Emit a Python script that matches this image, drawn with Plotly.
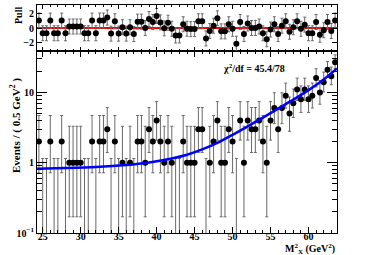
import plotly.graph_objects as go

# ---------------- data ----------------
bin_lo = 24.25
bin_w = 0.5
counts = [2, 0, 0, 2, 0, 0, 2, 0, 1, 1, 1, 1, 0, 0, 2, 0, 2, 2, 3, 0,
          2, 0, 1, 0, 1, 0, 2, 2, 1, 3, 2, 4, 2, 1, 2, 1, 0, 0, 2, 1,
          1, 1, 3, 3, 0, 1, 2, 4, 1, 1, 3, 2, 0, 4, 1, 4, 3, 3, 4, 2,
          1, 4, 6, 3, 6, 9, 5, 7, 11, 8, 11, 8, 9, 16, 10, 14, 21, 17, 27]
pulls = [1.0, -0.7, -0.7, 1.0, -0.7, -0.7, 1.0, -0.7, 0.2, 0.2, 0.2, 0.2, -0.7, -0.7, 1.0, -0.7,
         1.0, 1.0, 1.4, -0.75, 0.9, -0.75, 0.1, -0.75, 0.1, -0.8, 0.85, 0.85, 0.0, 1.2, 0.8, 1.6,
         0.75, -0.05, 0.7, -0.1, -1.0, -1.0, 0.5, -0.1, -0.15, -0.15, 0.9, 0.9, -1.4, -0.4, 0.3, 1.3,
         -0.45, -0.45, 0.5, -0.1, -2.1, 0.8, -0.8, 0.6, 0.0, 0.0, 0.2, -0.7, -1.5, -0.2, 0.5, -0.8,
         0.3, 0.9, -0.5, 0.1, 0.9, -0.1, 0.45, -0.7, -0.7, 0.8, -0.9, -0.3, 0.8, -0.4, 1.0]
# asymmetric error bar (down, up) per bin content
err_down = {1: 0.83, 2: 1.28, 3: 1.6, 4: 1.9, 5: 2.2, 6: 2.4, 7: 2.6, 8: 2.8, 9: 3.0,
            10: 3.2, 11: 3.3, 14: 3.8, 16: 4.0, 17: 4.1, 21: 4.6, 27: 5.2}
err_up = {1: 2.3, 2: 2.7, 3: 3.1, 4: 3.4, 5: 3.6, 6: 3.9, 7: 4.2, 8: 4.4, 9: 4.6,
          10: 4.8, 11: 5.0, 14: 5.5, 16: 5.8, 17: 6.0, 21: 6.5, 27: 7.3}
zero_up = 1.15
fit_x = [24.25, 28.0, 32.0, 36.0, 39.0, 42.0, 44.0, 46.0, 48.0, 50.0, 52.0, 54.0, 56.0, 58.0, 60.0, 62.0, 63.75]
fit_y = [0.82, 0.84, 0.87, 0.93, 1.01, 1.15, 1.30, 1.55, 1.92, 2.5, 3.3, 4.4, 5.9, 7.9, 10.8, 15.3, 22.0]
x_ticks = [25, 30, 35, 40, 45, 50, 55, 60]
y_ticks = [0.1, 1, 10]
y_ticktext = ["10<sup>−1</sup>", "1", "10"]
pull_ticks = [-2, 0, 2]
pull_ticktext = ["−2", "0", "2"]
chi2_label = "χ<sup>2</sup>/df = 45.4/78"

# ---------------- build ----------------
nb = len(counts)
centers = [bin_lo + bin_w * (i + 0.5) for i in range(nb)]
x_hi = bin_lo + bin_w * nb

nz_x = [c for c, n in zip(centers, counts) if n > 0]
nz_y = [n for n in counts if n > 0]
nz_up = [err_up[n] for n in nz_y]
nz_dn = [err_down[n] for n in nz_y]
z_x = [c for c, n in zip(centers, counts) if n == 0]
z_top = [zero_up for _ in z_x]
z_dn = [zero_up - 0.001 for _ in z_x]

FONT = "Liberation Serif"
BAR = "#6a6a6a"

fig = go.Figure()
# zero-content bins: error bar only
fig.add_trace(go.Scatter(x=z_x, y=z_top, mode="markers", marker=dict(size=0.1, color="rgba(0,0,0,0)"),
                         error_y=dict(type="data", symmetric=False, array=[0] * len(z_x), arrayminus=z_dn,
                                      color=BAR, thickness=1, width=1.5),
                         xaxis="x", yaxis="y", hoverinfo="skip"))
fig.add_trace(go.Scatter(x=nz_x, y=nz_y, mode="markers", marker=dict(size=6, color="black"),
                         error_y=dict(type="data", symmetric=False, array=nz_up, arrayminus=nz_dn,
                                      color=BAR, thickness=1, width=1.5),
                         xaxis="x", yaxis="y"))
fig.add_trace(go.Scatter(x=fit_x, y=fit_y, mode="lines",
                         line=dict(color="#0000ff", width=2.6, shape="spline", smoothing=0.8),
                         xaxis="x", yaxis="y"))
# pull panel
fig.add_trace(go.Scatter(x=[bin_lo, x_hi], y=[0, 0], mode="lines", line=dict(color="#ff0000", width=2),
                         xaxis="x2", yaxis="y2"))
fig.add_trace(go.Scatter(x=centers, y=pulls, mode="markers", marker=dict(size=6, color="black"),
                         error_y=dict(type="constant", value=1, color=BAR, thickness=1, width=1.5),
                         xaxis="x2", yaxis="y2"))

tickfont = dict(family=FONT, size=10, color="black", weight="bold")
axis_common = dict(showline=True, linecolor="black", linewidth=1, mirror="ticks", ticks="inside",
                   showgrid=False, zeroline=False, tickcolor="black", tickfont=tickfont)

split = 182 / 228
fig.update_layout(
    width=374, height=255,
    margin=dict(l=37, r=37, t=5, b=22),
    paper_bgcolor="white", plot_bgcolor="white",
    showlegend=False,
    xaxis=dict(domain=[0, 1], anchor="y", range=[bin_lo, x_hi], tickvals=x_ticks, ticklen=6,
               ticklabelstandoff=-6,
               minor=dict(dtick=1, tick0=25, ticklen=3, ticks="inside", tickcolor="black"), **axis_common),
    xaxis2=dict(domain=[0, 1], anchor="y2", matches="x", range=[bin_lo, x_hi], tickvals=x_ticks, ticklen=4,
                showticklabels=False,
                minor=dict(dtick=1, tick0=25, ticklen=2, ticks="inside", tickcolor="black"), **axis_common),
    yaxis=dict(domain=[0, split], anchor="x", type="log", range=[-1, 1.59], tickvals=y_ticks,
               ticktext=y_ticktext, ticklen=10,
               minor=dict(tickvals=[0.2, 0.3, 0.4, 0.5, 0.6, 0.7, 0.8, 0.9, 2, 3, 4, 5, 6, 7, 8, 9, 20, 30],
                          ticklen=5, ticks="inside", tickcolor="black"), **axis_common),
    yaxis2=dict(domain=[split, 1], anchor="x2", range=[-3.07, 3.07], tickvals=pull_ticks,
                ticktext=pull_ticktext, ticklen=5, **axis_common),
)

def px_x(p):
    return (p - 37) / 300.0

def px_y(p):
    return (233 - p) / 228.0

ann_font = dict(family=FONT, size=10, color="black", weight="bold")
fig.add_annotation(text="Pull", xref="paper", yref="paper", x=px_x(18), y=px_y(16), textangle=-90,
                   showarrow=False, font=ann_font, xanchor="center", yanchor="middle")
fig.add_annotation(text="Events / ( 0.5 GeV<sup>2</sup> )", xref="paper", yref="paper", x=px_x(15),
                   y=px_y(126), textangle=-90, showarrow=False,
                   font=dict(family=FONT, size=11, color="black", weight="bold"),
                   xanchor="center", yanchor="middle")
fig.add_annotation(text=chi2_label, xref="paper", yref="paper", x=px_x(254), y=px_y(68),
                   showarrow=False, font=ann_font, xanchor="center", yanchor="middle")
fig.add_annotation(text="M<sup>2</sup><sub>X</sub> (GeV<sup>2</sup>)", xref="paper", yref="paper",
                   x=1.0, y=px_y(249), showarrow=False, font=ann_font, xanchor="right", yanchor="middle")

fig.write_html("out.html", config={"displayModeBar": False},
               post_script="document.body.style.margin='0';document.body.style.padding='0';")
